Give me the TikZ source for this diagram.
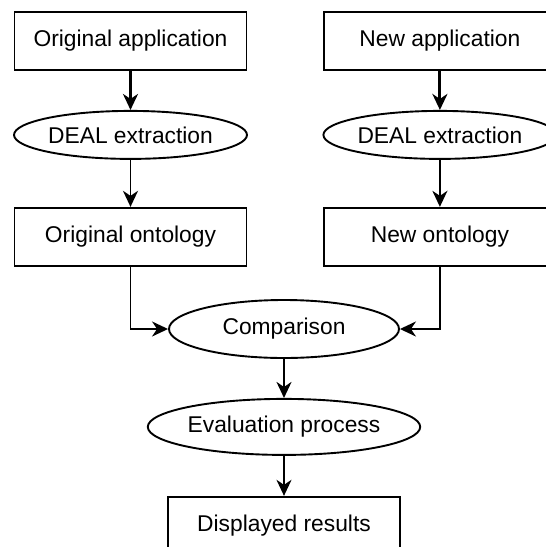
\documentclass[tikz,border=0pt]{standalone}
\usepackage{fontspec}
\setmainfont{Liberation Sans}
\usepackage{tikz}
\usetikzlibrary{positioning,shapes.geometric,arrows.meta}

\tikzset{
  box/.style={draw, line width=1.9pt, minimum width=232pt, minimum height=58pt, inner sep=0pt},
  proc/.style={draw, ellipse, line width=1.9pt, minimum width=230pt, minimum height=48pt, inner sep=0pt},
  link/.style={line width=1.9pt, -{Stealth[length=16pt,width=15pt,inset=5pt]}},
  boldlink/.style={link, line width=3pt}
}

\begin{document}
\begin{tikzpicture}[x=1pt, y=-1pt, font=\fontsize{22.8}{27}\selectfont]
\useasboundingbox (0,0) rectangle (546,547);
\node[box] (origapp) at (130.5,41) {Original application};
\node[proc, below=39pt of origapp] (origdeal) {DEAL extraction};
\node[box, below=47pt of origdeal] (origont) {Original ontology};
\node[box, right=75.5pt of origapp] (newapp) {New application};
\node[proc, below=39pt of newapp] (newdeal) {DEAL extraction};
\node[box, below=47pt of newdeal] (newont) {New ontology};
\node[proc, minimum width=230pt, minimum height=58pt] (comp) at (284,329) {Comparison};
\node[proc, minimum width=270pt, minimum height=56pt, below=39pt of comp] (eval) {Evaluation process};
\node[box, below=40pt of eval] (results) {Displayed results};

\draw[boldlink] (origapp) -- (origdeal);
\draw[boldlink] (newapp) -- (newdeal);
\draw[link] (origdeal) -- (origont);
\draw[link] (newdeal) -- (newont);
\draw[link] (origont.south) |- (comp.west);
\draw[link] (newont.south) |- (comp.east);
\draw[link] (comp) -- (eval);
\draw[link] (eval) -- (results);
\end{tikzpicture}
\end{document}
